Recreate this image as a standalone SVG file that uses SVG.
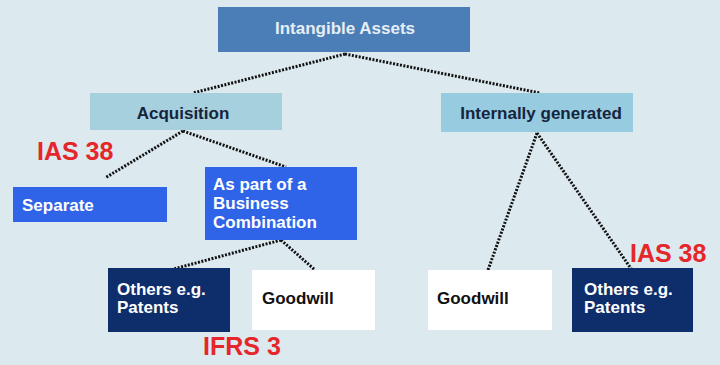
<svg xmlns="http://www.w3.org/2000/svg" width="720" height="365" viewBox="0 0 720 365">
<style>
.t{font-family:"Liberation Sans",Arial,sans-serif;font-weight:bold;font-size:17px}
.w{fill:#ffffff}
.lw{fill:#e6edf5}
.d{fill:#15243c}
.k{fill:#111111}
.r{font-family:"Liberation Sans",Arial,sans-serif;font-weight:bold;font-size:25px;fill:#e5262a}
.c{fill:none;stroke:#111111;stroke-width:3;stroke-dasharray:2 1.5}
</style>
<rect width="720" height="365" fill="#dce9ee"/>
<g id="connectors">
<path class="c" d="M345,54 L193,93"/>
<path class="c" d="M345,54 L540,93"/>
<path class="c" d="M183,131 L105,178"/>
<path class="c" d="M183,131 L286,167"/>
<path class="c" d="M281,240 L170,270"/>
<path class="c" d="M281,240 L315,270"/>
<path class="c" d="M537,133 L488,270"/>
<path class="c" d="M537,133 L632,270"/>
</g>
<g id="intangible">
<rect x="218" y="7" width="252" height="45" fill="#4b7eb6"/>
<text class="t lw" x="345" y="34" text-anchor="middle">Intangible Assets</text>
</g>
<g id="acquisition">
<rect x="90" y="93" width="192" height="37" fill="#a6d0de"/>
<text class="t d" x="183" y="119" text-anchor="middle">Acquisition</text>
</g>
<g id="internal">
<rect x="441" y="93" width="192" height="39" fill="#96cbe0"/>
<text class="t d" x="541" y="119" text-anchor="middle">Internally generated</text>
</g>
<g id="separate">
<rect x="13" y="187" width="154" height="35" fill="#2f63e8"/>
<text class="t w" x="22" y="211">Separate</text>
</g>
<g id="business">
<rect x="205" y="167" width="152" height="73" fill="#2f63e8"/>
<text class="t w" x="213" y="190">As part of a</text>
<text class="t w" x="213" y="209">Business</text>
<text class="t w" x="213" y="228">Combination</text>
</g>
<g id="others-left">
<rect x="108" y="268" width="122" height="64" fill="#0e2d6b"/>
<text class="t w" x="117" y="295">Others e.g.</text>
<text class="t w" x="117" y="313">Patents</text>
</g>
<g id="goodwill-left">
<rect x="252" y="270" width="123" height="60" fill="#ffffff"/>
<text class="t k" x="262" y="304">Goodwill</text>
</g>
<g id="goodwill-right">
<rect x="428" y="270" width="124" height="60" fill="#ffffff"/>
<text class="t k" x="437" y="304">Goodwill</text>
</g>
<g id="others-right">
<rect x="572" y="268" width="121" height="64" fill="#0e2d6b"/>
<text class="t w" x="584" y="295">Others e.g.</text>
<text class="t w" x="584" y="313">Patents</text>
</g>
<g id="labels">
<text class="r" x="37" y="160">IAS 38</text>
<text class="r" x="203" y="355">IFRS 3</text>
<text class="r" x="630" y="262">IAS 38</text>
</g>
</svg>
